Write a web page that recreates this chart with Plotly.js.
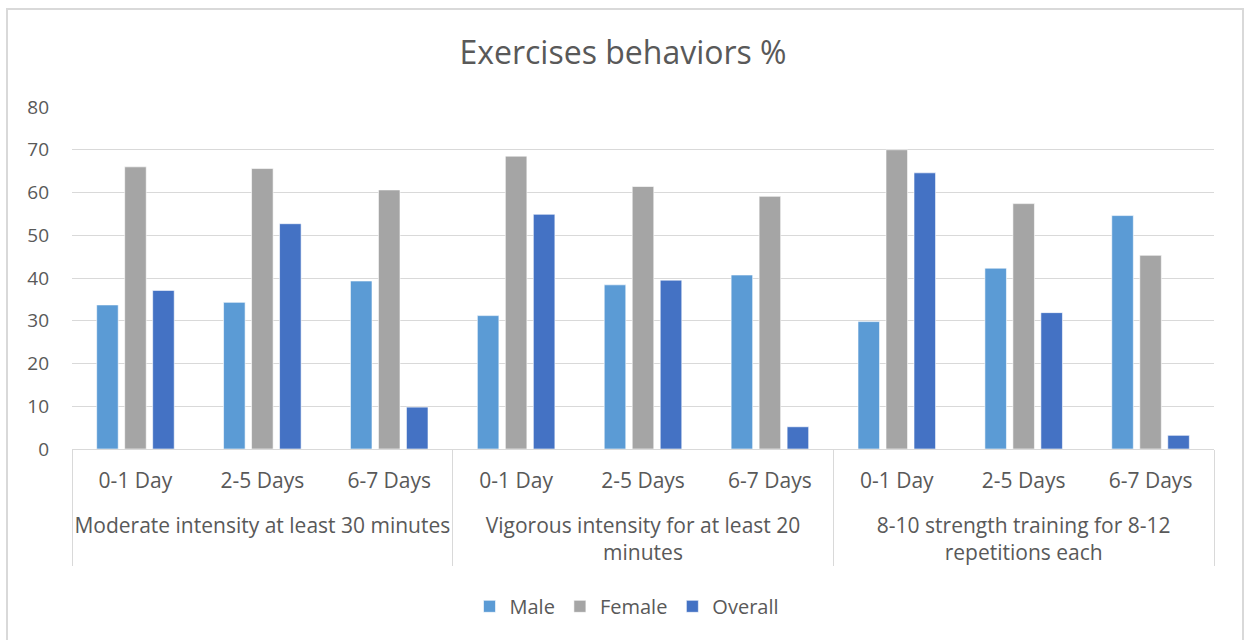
<!DOCTYPE html>
<html>
<head>
<meta charset="utf-8">
<script src="https://cdn.plot.ly/plotly-3.0.1.min.js"></script>
<style>
  html, body { margin: 0; padding: 0; background: #ffffff; }
  #chart { width: 1246px; height: 640px; }
  #frame {
    position: absolute; left: 6px; top: 8px; width: 1234px; height: 660px;
    border: 2px solid #d9d9d9; pointer-events: none;
  }
</style>
</head>
<body>
<div id="chart"></div>
<div id="frame"></div>
<script>
// Exercise behaviour groups and the day ranges inside each group
const groups = [
  "<br>Moderate intensity at least 30 minutes",
  "<br>Vigorous intensity for at least 20<br>minutes",
  "<br>8-10 strength training for 8-12<br>repetitions each"
];
const dayRanges = ["0-1 Day", "2-5 Days", "6-7 Days"];

// Percentages per group, in dayRanges order
const male    = [33.7, 34.3, 39.3,  31.2, 38.4, 40.7,  29.8, 42.3, 54.6];
const female  = [66.0, 65.6, 60.6,  68.5, 61.4, 59.1,  70.0, 57.4, 45.3];
const overall = [37.1, 52.7, 9.8,   54.9, 39.5, 5.2,   64.6, 31.9, 3.2];

const outerLevel = [];
const innerLevel = [];
groups.forEach(g => dayRanges.forEach(d => { outerLevel.push(g); innerLevel.push(d); }));
const xCats = [outerLevel, innerLevel];

const font = "Open Sans, Noto Sans, sans-serif";
const textColor = "#595959";

const traces = [
  { name: "Male",    y: male,    color: "#5b9bd5" },
  { name: "Female",  y: female,  color: "#a5a5a5" },
  { name: "Overall", y: overall, color: "#4472c4" }
].map(s => ({
  type: "bar",
  name: s.name,
  x: xCats,
  y: s.y,
  marker: { color: s.color, line: { color: "#ffffff", width: 0.6 } },
  hoverinfo: "x+y+name"
}));

const layout = {
  width: 1246,
  height: 640,
  paper_bgcolor: "#ffffff",
  plot_bgcolor: "#ffffff",
  margin: { l: 72, r: 32, t: 107, b: 191 },
  font: { family: font, size: 20, color: textColor },
  title: {
    text: "Exercises behaviors %",
    font: { family: font, size: 32, color: textColor },
    x: 0.5, xanchor: "center",
    y: 0.918, yanchor: "middle"
  },
  barmode: "group",
  bargap: 0.338,
  bargroupgap: 0.23,
  xaxis: {
    type: "multicategory",
    showline: true,
    linecolor: "#d9d9d9",
    linewidth: 1,
    showgrid: false,
    ticks: "",
    ticklabelstandoff: 13,
    showdividers: true,
    dividercolor: "#d9d9d9",
    dividerwidth: 1,
    tickfont: { family: font, size: 21, color: textColor }
  },
  yaxis: {
    range: [0, 80],
    dtick: 10,
    showgrid: true,
    gridcolor: "#d9d9d9",
    gridwidth: 1,
    zeroline: false,
    showline: false,
    ticks: "",
    ticklabelstandoff: 22,
    tickfont: { family: font, size: 19, color: textColor }
  },
  showlegend: true,
  legend: {
    orientation: "h",
    x: 0.486, xanchor: "center",
    y: -0.46, yanchor: "middle",
    font: { family: font, size: 20, color: textColor },
    itemwidth: 30,
    traceorder: "normal"
  }
};

Plotly.newPlot("chart", traces, layout, { displayModeBar: false, staticPlot: true });
</script>
</body>
</html>
